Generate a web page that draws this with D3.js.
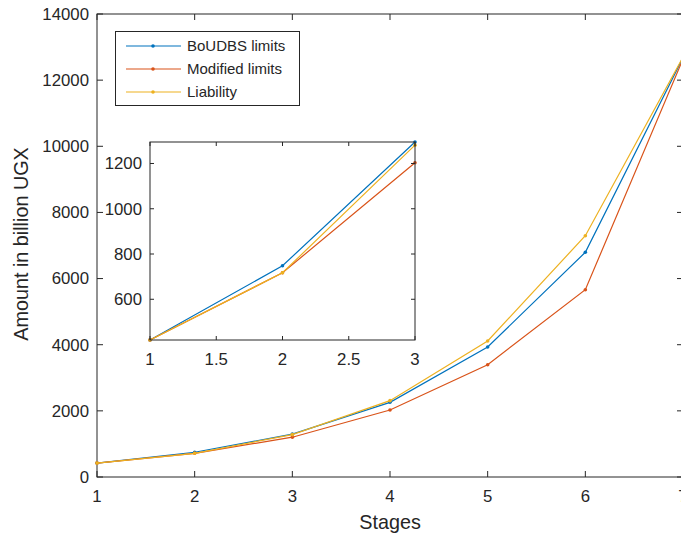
<!DOCTYPE html>
<html>
<head>
<script src="https://d3js.org/d3.v7.min.js"></script>
<style>
body { margin: 0; background: #fff; }
text { font-family: "Liberation Sans", Arial, sans-serif; fill: #262626; }
</style>
</head>
<body>
<script>
// chart data
var stages = [1, 2, 3, 4, 5, 6, 7];
var boudbs = [420, 748, 1295, 2258, 3931, 6795, 12680];
var modified = [420, 717, 1203, 2026, 3396, 5664, 12640];
var liability = [420, 717, 1281, 2308, 4112, 7297, 12700];
var seriesNames = ["BoUDBS limits", "Modified limits", "Liability"];
var colors = ["#0072BD", "#D95319", "#EDB120"];
var mainYTicks = [0, 2000, 4000, 6000, 8000, 10000, 12000, 14000];
var insetXTicks = [1, 1.5, 2, 2.5, 3];
var insetYTicks = [600, 800, 1000, 1200];

var all = [boudbs, modified, liability];
var width = 681, height = 539;
var axisCol = "#262626";
var tickFont = 16.8;

var svg = d3.select("body").append("svg")
    .attr("width", width).attr("height", height);

// main axes
var x = d3.scaleLinear().domain([1, 7]).range([97, 683]);
var y = d3.scaleLinear().domain([0, 14000]).range([477, 14]);

function drawBox(g, xs, ys, xt, yt, tickLen, xLabOff, yLabOff) {
    var x0 = xs.range()[0], x1 = xs.range()[1];
    var y0 = ys.range()[0], y1 = ys.range()[1];
    g.append("rect").attr("x", x0).attr("y", y1)
        .attr("width", x1 - x0).attr("height", y0 - y1)
        .attr("fill", "none").attr("stroke", axisCol).attr("stroke-width", 1);
    xt.forEach(function(t) {
        g.append("line").attr("x1", xs(t)).attr("x2", xs(t))
            .attr("y1", y0).attr("y2", y0 - tickLen).attr("stroke", axisCol);
        g.append("line").attr("x1", xs(t)).attr("x2", xs(t))
            .attr("y1", y1).attr("y2", y1 + tickLen).attr("stroke", axisCol);
        g.append("text").attr("x", xs(t)).attr("y", y0 + xLabOff)
            .attr("text-anchor", "middle").attr("font-size", tickFont).text(t);
    });
    yt.forEach(function(t) {
        g.append("line").attr("x1", x0).attr("x2", x0 + tickLen)
            .attr("y1", ys(t)).attr("y2", ys(t)).attr("stroke", axisCol);
        g.append("line").attr("x1", x1).attr("x2", x1 - tickLen)
            .attr("y1", ys(t)).attr("y2", ys(t)).attr("stroke", axisCol);
        g.append("text").attr("x", x0 - yLabOff).attr("y", ys(t))
            .attr("dy", "0.35em")
            .attr("text-anchor", "end").attr("font-size", tickFont).text(t);
    });
}

function drawLines(g, xs, ys, xvals) {
    all.forEach(function(s, k) {
        var pts = xvals.map(function(v, i) { return [v, s[i]]; });
        g.append("path").datum(pts)
            .attr("fill", "none").attr("stroke", colors[k]).attr("stroke-width", 1.2)
            .attr("d", d3.line().x(function(d) { return xs(d[0]); }).y(function(d) { return ys(d[1]); }));
        g.selectAll(null).data(pts).enter().append("circle")
            .attr("cx", function(d) { return xs(d[0]); })
            .attr("cy", function(d) { return ys(d[1]); })
            .attr("r", 1.8).attr("fill", colors[k]);
    });
}

var main = svg.append("g");
drawBox(main, x, y, stages, mainYTicks, 6, 25, 8);
drawLines(main, x, y, stages);

main.append("text").attr("x", 390).attr("y", 529)
    .attr("text-anchor", "middle").attr("font-size", 19.8).text("Stages");
main.append("text").attr("transform", "translate(28,244) rotate(-90)")
    .attr("text-anchor", "middle").attr("font-size", 19.8).text("Amount in billion UGX");

// legend
var leg = svg.append("g");
leg.append("rect").attr("x", 115.5).attr("y", 31.5).attr("width", 184).attr("height", 74)
    .attr("fill", "#fff").attr("stroke", axisCol);
seriesNames.forEach(function(n, k) {
    var ly = 46 + k * 23;
    leg.append("line").attr("x1", 126).attr("x2", 181).attr("y1", ly).attr("y2", ly)
        .attr("stroke", colors[k]).attr("stroke-width", 1.2);
    leg.append("circle").attr("cx", 153).attr("cy", ly).attr("r", 1.8).attr("fill", colors[k]);
    leg.append("text").attr("x", 187).attr("y", ly).attr("dy", "0.36em")
        .attr("font-size", 15).text(n);
});

// inset axes
var ix = d3.scaleLinear().domain([1, 3]).range([150, 415]);
var iy = d3.scaleLinear().domain([420, 1295]).range([340, 142]);
var inset = svg.append("g");
inset.append("rect").attr("x", 150).attr("y", 142).attr("width", 265).attr("height", 198)
    .attr("fill", "#fff");
drawLines(inset, ix, iy, [1, 2, 3]);
drawBox(inset, ix, iy, insetXTicks, insetYTicks, 4, 25, 8);
</script>
</body>
</html>
